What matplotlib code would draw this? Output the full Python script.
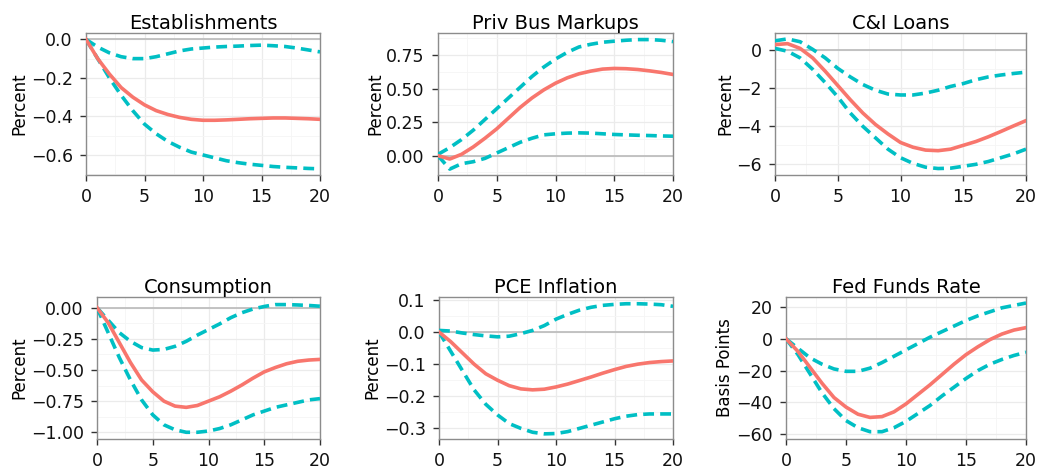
import numpy as np
import matplotlib
matplotlib.use("Agg")
import matplotlib.pyplot as plt
from matplotlib.ticker import MultipleLocator

# impulse responses by horizon (quarters 0..20): median and band edges
horizon = list(range(21))

estab_med = [0, -0.10, -0.18, -0.25, -0.30, -0.34, -0.37, -0.39, -0.405, -0.415, -0.42,
             -0.42, -0.418, -0.415, -0.412, -0.41, -0.408, -0.408, -0.41, -0.412, -0.415]
estab_hi = [0, -0.04, -0.07, -0.09, -0.10, -0.10, -0.09, -0.075, -0.06, -0.05, -0.045,
            -0.04, -0.037, -0.035, -0.032, -0.03, -0.033, -0.037, -0.045, -0.055, -0.065]
estab_lo = [0, -0.10, -0.20, -0.29, -0.37, -0.44, -0.49, -0.53, -0.56, -0.585, -0.60,
            -0.615, -0.63, -0.64, -0.648, -0.654, -0.66, -0.664, -0.667, -0.67, -0.672]

markup_med = [0, -0.025, 0.01, 0.065, 0.13, 0.20, 0.28, 0.36, 0.43, 0.49, 0.54,
              0.58, 0.61, 0.63, 0.645, 0.65, 0.648, 0.642, 0.632, 0.62, 0.605]
markup_hi = [0.01, 0.06, 0.12, 0.19, 0.27, 0.35, 0.43, 0.51, 0.59, 0.66, 0.72,
             0.77, 0.81, 0.83, 0.845, 0.853, 0.86, 0.865, 0.865, 0.86, 0.85]
markup_lo = [0, -0.10, -0.06, -0.045, -0.02, 0.02, 0.06, 0.10, 0.13, 0.155, 0.163,
             0.168, 0.17, 0.168, 0.163, 0.158, 0.155, 0.152, 0.15, 0.147, 0.145]

loans_med = [0.3, 0.35, 0.1, -0.4, -1.1, -1.85, -2.6, -3.3, -3.9, -4.4, -4.85,
             -5.1, -5.25, -5.28, -5.2, -5.0, -4.8, -4.55, -4.27, -3.98, -3.7]
loans_hi = [0.5, 0.6, 0.45, 0.05, -0.4, -0.95, -1.4, -1.8, -2.1, -2.3, -2.35,
            -2.35, -2.25, -2.1, -1.9, -1.75, -1.55, -1.4, -1.3, -1.22, -1.15]
loans_lo = [0.1, -0.05, -0.4, -1.0, -1.7, -2.45, -3.3, -4.0, -4.6, -5.2, -5.65,
            -5.95, -6.15, -6.22, -6.2, -6.1, -6.0, -5.85, -5.65, -5.45, -5.2]

cons_med = [0, -0.12, -0.28, -0.44, -0.58, -0.675, -0.75, -0.79, -0.80, -0.785, -0.75,
            -0.715, -0.67, -0.62, -0.565, -0.515, -0.48, -0.45, -0.43, -0.42, -0.415]
cons_hi = [0, -0.10, -0.20, -0.27, -0.32, -0.34, -0.335, -0.31, -0.27, -0.22, -0.175,
           -0.13, -0.08, -0.04, -0.01, 0.01, 0.025, 0.025, 0.022, 0.018, 0.012]
cons_lo = [0, -0.20, -0.40, -0.58, -0.74, -0.86, -0.94, -0.98, -1.0, -1.0, -0.99,
           -0.97, -0.94, -0.90, -0.86, -0.83, -0.80, -0.78, -0.76, -0.74, -0.73]

pce_med = [0, -0.03, -0.065, -0.10, -0.13, -0.15, -0.167, -0.177, -0.18, -0.178, -0.171,
           -0.162, -0.151, -0.14, -0.128, -0.117, -0.107, -0.10, -0.095, -0.092, -0.09]
pce_hi = [0.005, 0.003, -0.003, -0.008, -0.012, -0.015, -0.013, -0.005, 0.005, 0.02, 0.04,
          0.055, 0.068, 0.077, 0.083, 0.086, 0.088, 0.088, 0.087, 0.085, 0.08]
pce_lo = [0, -0.06, -0.12, -0.18, -0.225, -0.258, -0.285, -0.30, -0.312, -0.317, -0.316,
          -0.31, -0.30, -0.29, -0.28, -0.27, -0.262, -0.257, -0.255, -0.255, -0.255]

ffr_med = [0, -8, -18, -28, -37, -43, -47.5, -49.5, -49, -46, -41,
           -35, -29, -22.5, -16, -10, -5, -0.5, 3, 5.5, 7]
ffr_hi = [0, -6, -12, -16, -19, -20.5, -20.5, -18.5, -15, -11, -7,
          -3, 1, 4.5, 8, 11.5, 14.5, 17, 19.5, 21, 22.5]
ffr_lo = [0, -10, -22, -34, -44, -51.5, -56, -58.5, -58.5, -56, -52,
          -47, -42, -36, -30.5, -25, -20, -16, -13, -10.5, -8.5]

titles = ["Establishments", "Priv Bus Markups", "C&I Loans",
          "Consumption", "PCE Inflation", "Fed Funds Rate"]
ylabels = ["Percent", "Percent", "Percent", "Percent", "Percent", "Basis Points"]
series = [(estab_med, estab_hi, estab_lo), (markup_med, markup_hi, markup_lo),
          (loans_med, loans_hi, loans_lo), (cons_med, cons_hi, cons_lo),
          (pce_med, pce_hi, pce_lo), (ffr_med, ffr_hi, ffr_lo)]

# panel boxes in pixels (left, right, top, bottom), y limits, tick steps
boxes = [(86, 320, 33, 175), (438, 673, 33, 175), (775, 1026, 33, 175),
         (97, 320, 297, 439), (439, 673, 297, 439), (786, 1026, 297, 439)]
ylims = [(-0.704, 0.033), (-0.144, 0.914), (-6.56, 0.91),
         (-1.054, 0.086), (-0.333, 0.109), (-63.1, 26.3)]
ysteps = [0.2, 0.25, 2, 0.25, 0.1, 20]
yfmt = ["{:.1f}", "{:.2f}", "{:.0f}", "{:.2f}", "{:.1f}", "{:.0f}"]

W, H = 1043, 476
RED = "#F8766D"
CYAN = "#00BFC4"

fig = plt.figure(figsize=(W / 100, H / 100), dpi=100)

for i in range(6):
    l, r, t, b = boxes[i]
    ax = fig.add_axes([l / W, 1 - b / H, (r - l) / W, (b - t) / H])
    med, hi, lo = series[i]

    step = ysteps[i]
    ax.xaxis.set_major_locator(MultipleLocator(5))
    ax.xaxis.set_minor_locator(MultipleLocator(2.5))
    ax.yaxis.set_major_locator(MultipleLocator(step))
    ax.yaxis.set_minor_locator(MultipleLocator(step / 2))
    ax.grid(which="major", color="#EBEBEB", lw=0.9)
    ax.grid(which="minor", color="#F5F5F5", lw=0.6)
    ax.set_axisbelow(True)

    ax.axhline(0, color="#BEBEBE", lw=1.3, zorder=1)
    ax.plot(horizon, hi, color=CYAN, lw=2.6, dashes=(3, 1.7), zorder=3)
    ax.plot(horizon, lo, color=CYAN, lw=2.6, dashes=(3, 1.7), zorder=3)
    ax.plot(horizon, med, color=RED, lw=2.6, zorder=4)

    ax.set_xlim(0, 20)
    ax.set_ylim(*ylims[i])
    fmt = yfmt[i]
    ax.yaxis.set_major_formatter(plt.FuncFormatter(
        lambda v, p, f=fmt: f.format(v).replace("-", "\u2212") if abs(v) > 1e-9 else f.format(0)))

    for s in ax.spines.values():
        s.set_color("#8C8C8C")
        s.set_linewidth(1.0)
    ax.tick_params(which="major", length=4.5, width=1.0, color="#333333",
                   labelsize=12.5, labelcolor="#111111", pad=5)
    ax.tick_params(which="minor", length=0)
    ax.set_title(titles[i], fontsize=14, pad=1.5, color="black")
    ax.set_ylabel(ylabels[i], fontsize=12, labelpad=1.5)

fig.savefig("out.png", dpi=100)
